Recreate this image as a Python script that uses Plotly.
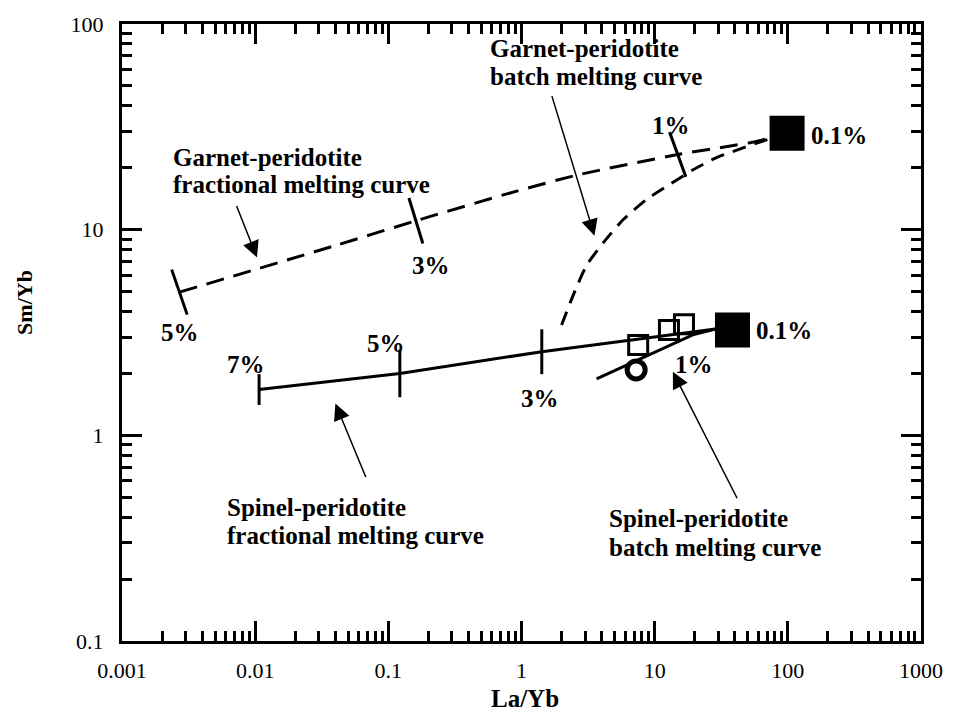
import plotly.graph_objects as go

# ---------------- data ----------------
garnet_frac_la = [0.0027, 0.040, 0.161, 0.92, 2.59, 14.9, 54.0, 98.7]
garnet_frac_sm = [4.97, 8.37, 11.05, 15.4, 18.4, 23.2, 26.6, 29.4]

garnet_batch_la = [2.00, 2.46, 3.08, 4.12, 5.81, 8.61, 12.8, 19.3, 28.6, 45.5, 64.1, 95.2]
garnet_batch_sm = [3.44, 4.85, 6.70, 8.65, 11.2, 13.96, 16.5, 19.5, 22.3, 24.9, 26.9, 29.1]

spinel_frac_la = [0.0107, 0.122, 1.42, 28.6, 38.4]
spinel_frac_sm = [1.67, 2.0, 2.55, 3.29, 3.27]

spinel_batch_la = [3.66, 19.3, 28.6]
spinel_batch_sm = [1.88, 3.08, 3.29]

garnet_tick_la = [0.0027, 0.161, 14.9]
garnet_tick_sm = [4.97, 11.05, 23.2]
garnet_tick_lbl = ["5%", "3%", "1%"]

spinel_tick_la = [0.0107, 0.122, 1.42]
spinel_tick_sm = [1.67, 2.0, 2.55]
spinel_tick_lbl = ["7%", "5%", "3%"]

source_la = [98.7, 38.4]   # 0.1% melting (garnet, spinel)
source_sm = [29.4, 3.25]

sample_sq_la = [7.52, 12.8, 16.6]
sample_sq_sm = [2.75, 3.25, 3.47]
sample_ci_la = [7.26]
sample_ci_sm = [2.08]

x_tickvals = [0.001, 0.01, 0.1, 1, 10, 100, 1000]
x_ticktext = ["0.001", "0.01", "0.1", "1", "10", "100", "1000"]
y_tickvals = [0.1, 1, 10, 100]
y_ticktext = ["0.1", "1", "10", "100"]

# ---------------- layout helpers ----------------
W, H = 955, 713
L, R, T, B = 122, 28, 20, 72
PW, PH = W - L - R, H - T - B


def px(xp, yp):
    return (xp - L) / PW, (H - B - yp) / PH


SERIF = "Liberation Serif, Times New Roman, serif"

fig = go.Figure()

fig.add_trace(go.Scatter(x=garnet_frac_la, y=garnet_frac_sm, mode="lines",
                         line=dict(color="black", width=3, dash="18px,10px", shape="spline", smoothing=0.6),
                         showlegend=False, hoverinfo="skip"))
fig.add_trace(go.Scatter(x=garnet_batch_la, y=garnet_batch_sm, mode="lines",
                         line=dict(color="black", width=3, dash="14px,9px", shape="spline", smoothing=0.6),
                         showlegend=False, hoverinfo="skip"))
fig.add_trace(go.Scatter(x=spinel_frac_la, y=spinel_frac_sm, mode="lines",
                         line=dict(color="black", width=3),
                         showlegend=False, hoverinfo="skip"))
fig.add_trace(go.Scatter(x=spinel_batch_la, y=spinel_batch_sm, mode="lines",
                         line=dict(color="black", width=3),
                         showlegend=False, hoverinfo="skip"))

# percent tick marks across the curves
fig.add_trace(go.Scatter(x=garnet_tick_la, y=garnet_tick_sm, mode="markers",
                         marker=dict(symbol="line-ns", size=34, angle=[-19, -17, -20], color="black",
                                     line=dict(color="black", width=3)),
                         showlegend=False, hoverinfo="skip"))
spinel_tick_len = [22, 34, 32]
for xv, yv, ln in zip(spinel_tick_la, spinel_tick_sm, spinel_tick_len):
    fig.add_trace(go.Scatter(x=[xv], y=[yv], mode="markers",
                             marker=dict(symbol="line-ns", size=ln, color="black",
                                         line=dict(color="black", width=3)),
                             showlegend=False, hoverinfo="skip"))

# samples
fig.add_trace(go.Scatter(x=sample_sq_la, y=sample_sq_sm, mode="markers",
                         marker=dict(symbol="square-open", size=19, color="black",
                                     line=dict(color="black", width=3)),
                         showlegend=False, hoverinfo="skip"))
fig.add_trace(go.Scatter(x=sample_ci_la, y=sample_ci_sm, mode="markers",
                         marker=dict(symbol="circle-open", size=18, color="black",
                                     line=dict(color="black", width=5)),
                         showlegend=False, hoverinfo="skip"))
# sources (0.1% melt)
fig.add_trace(go.Scatter(x=source_la, y=source_sm, mode="markers",
                         marker=dict(symbol="square", size=35, color="black",
                                     line=dict(width=0)),
                         showlegend=False, hoverinfo="skip"))

ann = []


def text(xp, yp, s, size=25, xanchor="center"):
    x, y = px(xp, yp)
    ann.append(dict(x=x, y=y, xref="paper", yref="paper", text="<b>%s</b>" % s,
                    showarrow=False, xanchor=xanchor, yanchor="middle",
                    font=dict(family=SERIF, size=size, color="black")))


def arrow(hx, hy, tx, ty):
    x, y = px(hx, hy)
    ann.append(dict(x=x, y=y, xref="paper", yref="paper", text="", showarrow=True,
                    ax=tx - hx, ay=ty - hy, arrowhead=2, arrowsize=2.2, arrowwidth=1.5,
                    arrowcolor="black", standoff=0, startstandoff=0))


# percentage labels
text(180, 330, garnet_tick_lbl[0])
text(433, 263, garnet_tick_lbl[1])
text(675, 122, garnet_tick_lbl[2])
text(814, 132, "0.1%", xanchor="left")
text(247, 363, spinel_tick_lbl[0])
text(388, 342, spinel_tick_lbl[1])
text(543, 397, spinel_tick_lbl[2])
text(698, 363, "1%")
text(759, 328, "0.1%", xanchor="left")

# curve names (each line placed separately to keep the tight line spacing)
text(171, 154, "Garnet-peridotite", xanchor="left")
text(171, 182, "fractional melting curve", xanchor="left")
text(491, 45, "Garnet-peridotite", xanchor="left")
text(491, 73, "batch melting curve", xanchor="left")
text(226, 507, "Spinel-peridotite", xanchor="left")
text(226, 535, "fractional melting curve", xanchor="left")
text(611, 518, "Spinel-peridotite", xanchor="left")
text(611, 547, "batch melting curve", xanchor="left")

arrow(258, 255, 237, 202)
arrow(598, 233, 555, 92)
arrow(337, 402, 368, 477)
arrow(677, 370, 742, 498)

# axis titles
xt, yt = px(528, 699)
ann.append(dict(x=xt, y=yt, xref="paper", yref="paper", text="<b>La/Yb</b>", showarrow=False,
                xanchor="center", yanchor="middle",
                font=dict(family=SERIF, size=25, color="black")))
xt, yt = px(23, 300)
ann.append(dict(x=xt, y=yt, xref="paper", yref="paper", text="<b>Sm/Yb</b>", showarrow=False,
                xanchor="center", yanchor="middle",
                textangle=-90, font=dict(family=SERIF, size=22, color="black")))

axis_common = dict(type="log", showgrid=False, zeroline=False, showline=True,
                   linecolor="black", linewidth=3, mirror="allticks",
                   ticks="inside", ticklen=20, tickwidth=3, tickcolor="black",
                   tickfont=dict(family=SERIF, size=22, color="black"),
                   minor=dict(ticks="inside", ticklen=10, tickwidth=3, tickcolor="black",
                              dtick="D1", showgrid=False))

fig.update_layout(
    width=W, height=H,
    margin=dict(l=L, r=R, t=T, b=B),
    paper_bgcolor="white", plot_bgcolor="white",
    xaxis=dict(axis_common, range=[-3, 3], tickvals=x_tickvals, ticktext=x_ticktext,
               ticklabelstandoff=8),
    yaxis=dict(axis_common, range=[-1, 2], tickvals=y_tickvals, ticktext=y_ticktext,
               ticklabelstandoff=11),
    annotations=ann,
)

fig.write_html("out.html")
